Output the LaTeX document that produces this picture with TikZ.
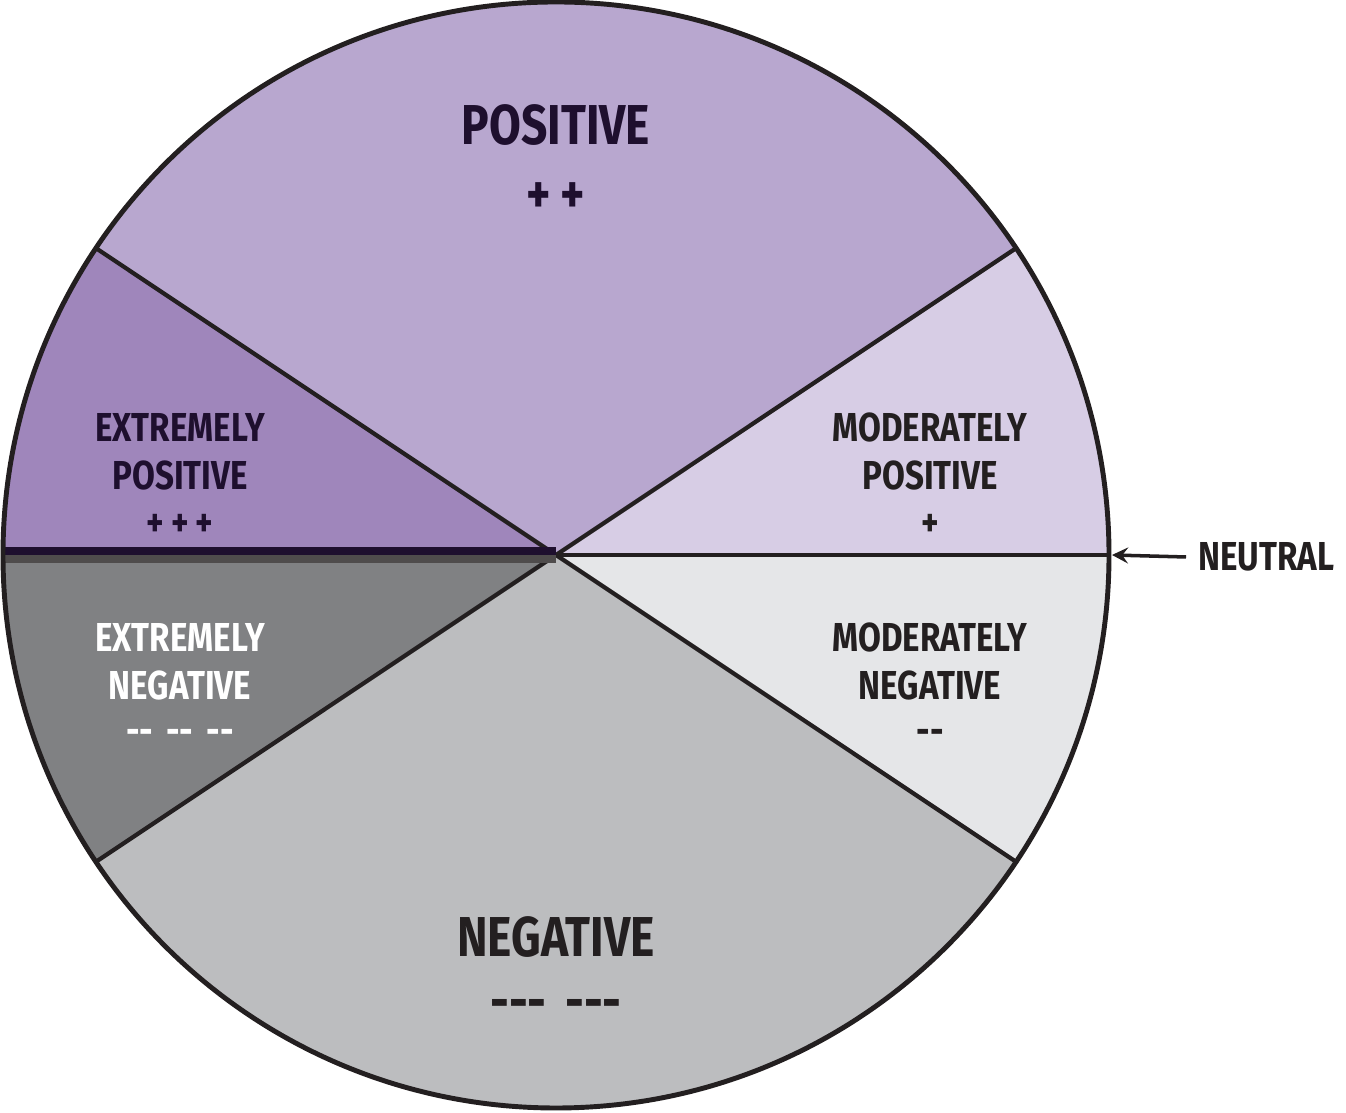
\documentclass[tikz,border=0pt]{standalone}
\usepackage{fontspec}
\newfontfamily\wheelfont[FakeStretch=0.82]{Fira Sans}
\definecolor{posmid}{HTML}{B8A7CF}
\definecolor{posext}{HTML}{9F86BB}
\definecolor{posmod}{HTML}{D7CDE5}
\definecolor{negmod}{HTML}{E5E6E8}
\definecolor{negmid}{HTML}{BCBDBF}
\definecolor{negext}{HTML}{808183}
\definecolor{postext}{HTML}{1E0F2E}
\definecolor{negtext}{HTML}{231F20}
\tikzset{
  big/.style={font=\wheelfont\bfseries\fontsize{16}{18}\selectfont},
  small/.style={font=\wheelfont\bfseries\fontsize{11.5}{13}\selectfont},
}
\begin{document}
\begin{tikzpicture}
        \useasboundingbox (0,0) rectangle (13.46,11.12);
        \coordinate (c) at (5.56,5.57);

        % wedges
        \fill[posmid] (c) -- ++(33.7:5.53) arc (33.7:146.3:5.53) -- cycle;
        \fill[posext] (c) -- ++(146.3:5.53) arc (146.3:180:5.53) -- cycle;
        \fill[posmod] (c) -- ++(0:5.53) arc (0:33.7:5.53) -- cycle;
        \fill[negmod] (c) -- ++(-33.7:5.53) arc (-33.7:0:5.53) -- cycle;
        \fill[negmid] (c) -- ++(-146.3:5.53) arc (-146.3:-33.7:5.53) -- cycle;
        \fill[negext] (c) -- ++(180:5.53) arc (180:213.7:5.53) -- cycle;

        \draw[negtext, line width=1.2pt] (c) -- ++(33.7:5.53);
        \draw[negtext, line width=1.2pt] (c) -- ++(146.3:5.53);
        \draw[negtext, line width=1.2pt] (c) -- ++(-33.7:5.53);
        \draw[negtext, line width=1.2pt] (c) -- ++(-146.3:5.53);
        \draw[negtext, line width=1.2pt] (c) -- ++(0:5.53);
        \draw[postext, line width=2.2pt] ([yshift=0.04cm]c) -- ++(180:5.53);
        \draw[negtext!80, line width=2.2pt] ([yshift=-0.04cm]c) -- ++(180:5.53);
        \draw[negtext, line width=1.4pt] (c) circle (5.53);

        \node[big, postext] (pos) at (5.56,9.87) {POSITIVE};
        \node[big, postext] (pos2) at (5.56,9.14) {+\,+};
        \node[small, postext] (ep1) at (1.80,6.84) {EXTREMELY};
        \node[small, postext] (ep2) at (1.80,6.36) {POSITIVE};
        \node[small, postext] (ep3) at (1.80,5.87) {+\,+\,+};
        \node[small, negtext] (mp1) at (9.30,6.84) {MODERATELY};
        \node[small, negtext] (mp2) at (9.30,6.36) {POSITIVE};
        \node[small, negtext] (mp3) at (9.30,5.87) {+};
        \node[small, white] (en1) at (1.80,4.74) {EXTREMELY};
        \node[small, white] (en2) at (1.80,4.26) {NEGATIVE};
        \node[small, white] (en3) at (1.80,3.75) {--\,\,--\,\,--};
        \node[small, negtext] (mn1) at (9.30,4.74) {MODERATELY};
        \node[small, negtext] (mn2) at (9.30,4.26) {NEGATIVE};
        \node[small, negtext] (mn3) at (9.30,3.75) {--};
        \node[big, negtext] (neg) at (5.56,1.75) {NEGATIVE};
        \node[big, negtext] (neg2) at (5.56,1.02) {---\,\,---};

        \coordinate (rim) at (11.12,5.57);
        \node[small, negtext, anchor=west] (neutral) at (11.86,5.55) {NEUTRAL};
        \draw[negtext, line width=1pt, -stealth] (neutral.west) -- (rim);
    \end{tikzpicture}
\end{document}
